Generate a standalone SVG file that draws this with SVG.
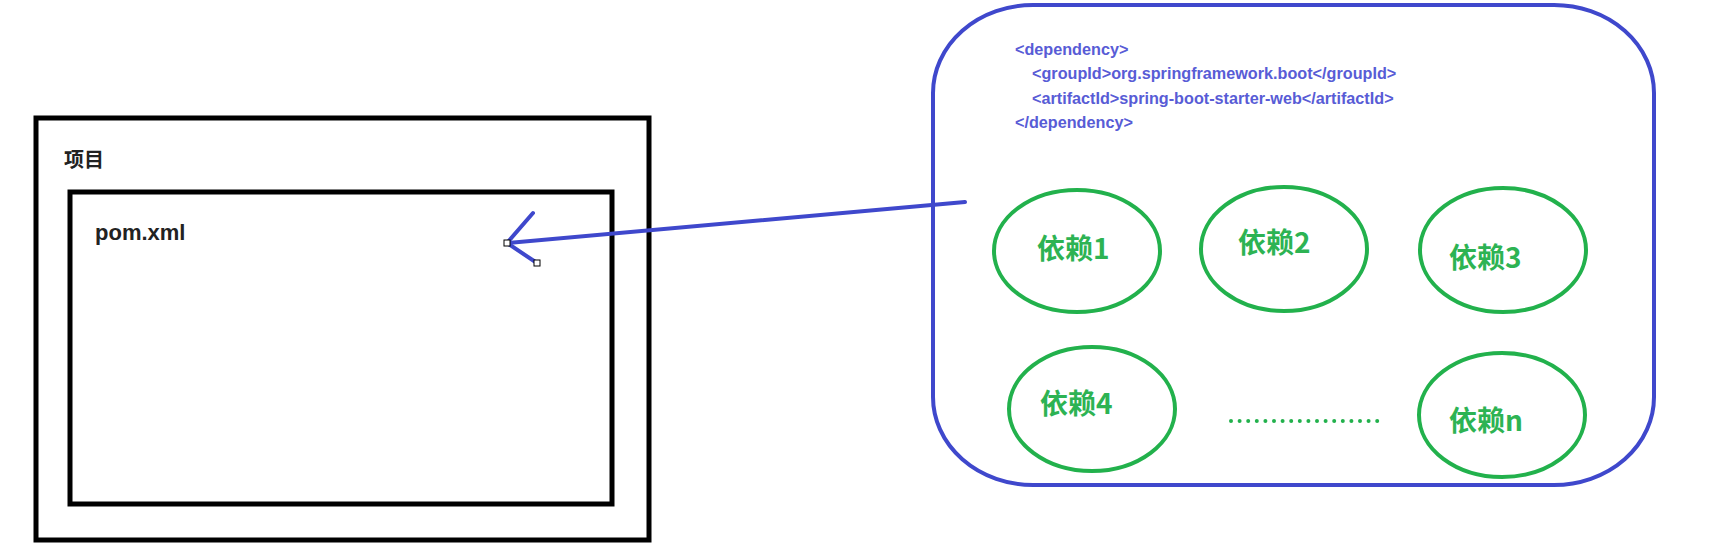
<svg xmlns="http://www.w3.org/2000/svg" width="1718" height="549" viewBox="0 0 1718 549">
<style>
.box{fill:none;stroke:#000;stroke-width:5}
.cont{fill:none;stroke:#3f48cc;stroke-width:4}
.dep{fill:none;stroke:#22b14c;stroke-width:4}
.lbl{font-family:"Noto Sans CJK SC","Liberation Sans",sans-serif;font-weight:bold;font-size:28px;fill:#2db353}
.code{font-family:"Liberation Sans",sans-serif;font-weight:bold;font-size:16.2px;fill:#585cd6}
.blk{font-family:"Liberation Sans","Noto Sans CJK SC",sans-serif;font-weight:bold;fill:#222}
.conn{stroke:#3f48cc;stroke-width:4;stroke-linecap:round;fill:none}
.handle{fill:#fff;stroke:#000;stroke-width:1}
</style>
<rect width="1718" height="549" fill="#fff"/>
<g id="project">
<rect class="box" x="36" y="118" width="613" height="422"/>
<text class="blk" x="64" y="167" font-size="20" font-family="Noto Sans CJK SC, sans-serif">项目</text>
</g>
<g id="pom">
<rect class="box" x="70" y="192" width="542" height="312"/>
<text class="blk" x="95" y="240" font-size="22">pom.xml</text>
</g>
<g id="container">
<rect class="cont" x="933" y="5" width="721" height="480" rx="100" ry="88"/>
<text class="code" x="1015" y="55">&lt;dependency&gt;</text>
<text class="code" x="1032" y="79">&lt;groupId&gt;org.springframework.boot&lt;/groupId&gt;</text>
<text class="code" x="1032" y="104">&lt;artifactId&gt;spring-boot-starter-web&lt;/artifactId&gt;</text>
<text class="code" x="1015" y="128">&lt;/dependency&gt;</text>
</g>
<g id="dep1"><ellipse class="dep" cx="1077" cy="251" rx="83" ry="61"/><text class="lbl" x="1037" y="259">依赖1</text></g>
<g id="dep2"><ellipse class="dep" cx="1284" cy="249" rx="83" ry="62"/><text class="lbl" x="1238" y="253">依赖2</text></g>
<g id="dep3"><ellipse class="dep" cx="1503" cy="250" rx="83" ry="62"/><text class="lbl" x="1449" y="268">依赖3</text></g>
<g id="dep4"><ellipse class="dep" cx="1092" cy="409" rx="83" ry="62"/><text class="lbl" x="1040" y="414">依赖4</text></g>
<g id="depn"><ellipse class="dep" cx="1502" cy="415" rx="83" ry="62"/><text class="lbl" x="1449" y="431">依赖n</text></g>
<g id="dots"><line x1="1231" y1="421" x2="1378" y2="421" stroke="#22b14c" stroke-width="4" stroke-linecap="round" stroke-dasharray="0 8.6"/></g>
<g id="connectors">
<line class="conn" x1="965" y1="202" x2="507" y2="243"/>
<polyline class="conn" points="533,213 507,243 537,263"/>
<rect class="handle" x="504" y="240" width="6" height="6"/>
<rect class="handle" x="534" y="260" width="6" height="6"/>
</g>
</svg>
